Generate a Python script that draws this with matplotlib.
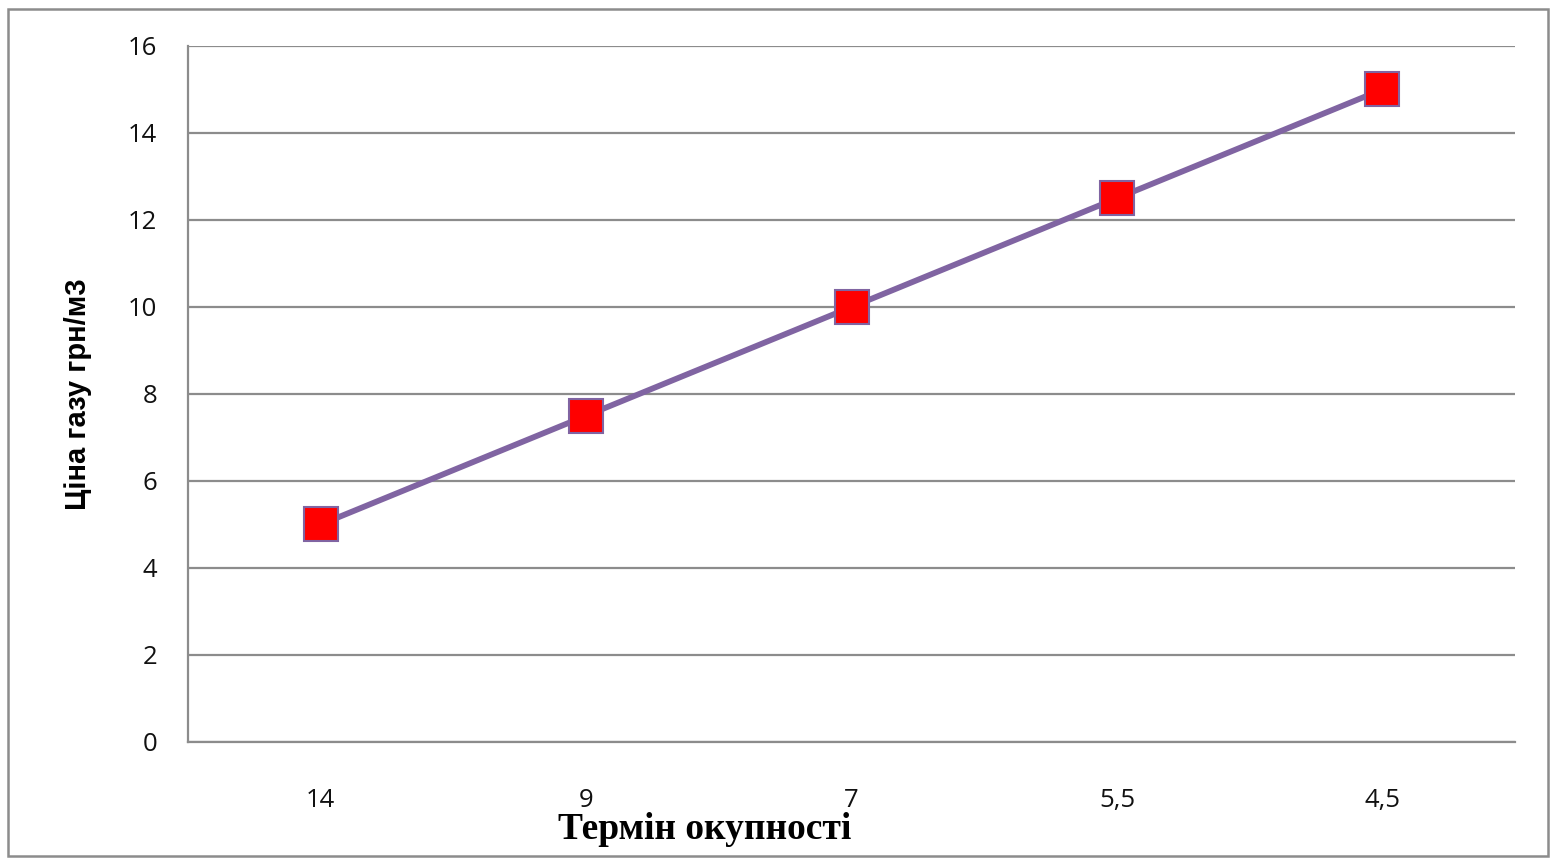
import matplotlib.pyplot as plt
from matplotlib.patches import Rectangle

# payback period categories and gas price values
categories = ['14', '9', '7', '5,5', '4,5']
prices = [5, 7.5, 10, 12.5, 15]
y_ticks = [0, 2, 4, 6, 8, 10, 12, 14, 16]

fig = plt.figure(figsize=(15.52, 8.58), dpi=100)
ax = fig.add_axes([0.1211, 0.1352, 0.8551, 0.8112])

x = range(len(categories))
ax.plot(x, prices, color='#8064A2', linewidth=4.2, zorder=3)
ax.plot(x, prices, linestyle='none', marker='s', markersize=24,
        markerfacecolor='#FF0000', markeredgecolor='#8064A2',
        markeredgewidth=1.5, zorder=4)

ax.set_xlim(-0.5, len(categories) - 0.5)
ax.set_ylim(0, 16)
ax.set_yticks(y_ticks)
ax.set_yticklabels([str(v) for v in y_ticks])
ax.set_xticks(list(x))
ax.set_xticklabels(categories)

ax.grid(axis='y', color='#8C8C8C', linewidth=1.6)
ax.set_axisbelow(True)
for side in ['top', 'right']:
    ax.spines[side].set_visible(False)
for side in ['left', 'bottom']:
    ax.spines[side].set_color('#8C8C8C')
    ax.spines[side].set_linewidth(1.6)

ax.tick_params(axis='both', length=0, labelsize=18.5, labelcolor='#111111')
ax.tick_params(axis='y', pad=22)
ax.tick_params(axis='x', pad=33)
for lbl in ax.get_xticklabels() + ax.get_yticklabels():
    lbl.set_fontfamily('Open Sans')

fig.text(0.050, 0.54, 'Ціна газу грн/м3', rotation=90, ha='center', va='center',
         fontsize=21, fontweight='bold', family='Liberation Sans')
fig.text(0.454, 0.033, 'Термін окупності', ha='center', va='center',
         fontsize=27, fontweight='bold', family='Liberation Serif')

# outer chart frame
fig.patches.append(Rectangle((8 / 1552, 2 / 858), 1540 / 1552, 847 / 858,
                             transform=fig.transFigure, fill=False,
                             edgecolor='#8C8C8C', linewidth=1.8))

fig.savefig('out.png', dpi=100)
